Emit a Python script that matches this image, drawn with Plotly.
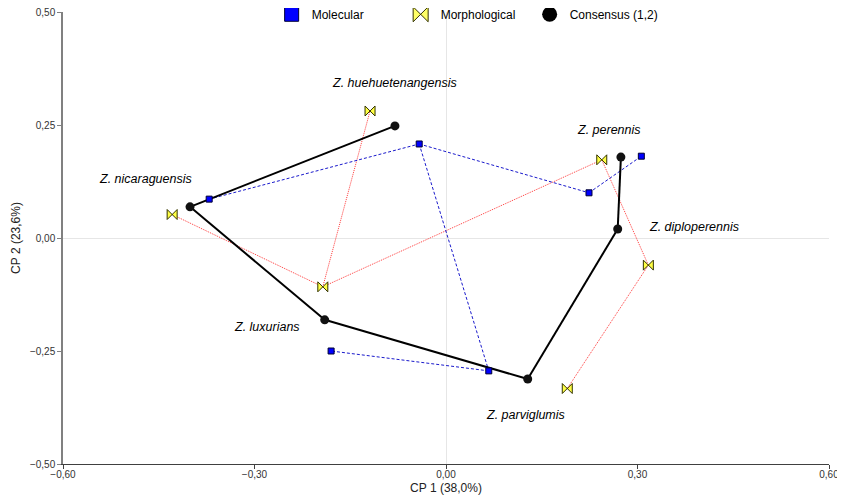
import plotly.graph_objects as go

species = ["Z. huehuetenangensis", "Z. nicaraguensis", "Z. luxurians",
           "Z. parviglumis", "Z. diploperennis", "Z. perennis"]

# Consensus (1,2) coordinates
cons_x = [-0.080, -0.401, -0.190, 0.128, 0.269, 0.274]
cons_y = [0.248, 0.069, -0.181, -0.312, 0.020, 0.179]
cons_edges = [(0, 1), (1, 2), (2, 3), (3, 4), (4, 5)]

# Molecular coordinates
mol_x = [-0.042, -0.371, -0.180, 0.067, 0.306, 0.224]
mol_y = [0.208, 0.086, -0.250, -0.294, 0.181, 0.100]
mol_edges = [(1, 0), (0, 5), (5, 4), (0, 3), (3, 2)]

# Morphological coordinates
mor_x = [-0.119, -0.429, -0.193, 0.190, 0.317, 0.244]
mor_y = [0.281, 0.052, -0.108, -0.333, -0.060, 0.173]
mor_edges = [(1, 2), (2, 0), (2, 5), (5, 4), (4, 3)]

x_ticks = [-0.60, -0.30, 0.00, 0.30, 0.60]
y_ticks = [-0.50, -0.25, 0.00, 0.25, 0.50]


def edge_path(xs, ys, edges):
    px, py = [], []
    for a, b in edges:
        px += [xs[a], xs[b], None]
        py += [ys[a], ys[b], None]
    return px, py


fig = go.Figure()

ex, ey = edge_path(mor_x, mor_y, mor_edges)
fig.add_trace(go.Scatter(x=ex, y=ey, mode="lines", showlegend=False,
                         line=dict(color="#ff3b3b", width=1, dash="1px,1px"), hoverinfo="skip"))
ex, ey = edge_path(mol_x, mol_y, mol_edges)
fig.add_trace(go.Scatter(x=ex, y=ey, mode="lines", showlegend=False,
                         line=dict(color="#1a1acc", width=1, dash="3px,2px"), hoverinfo="skip"))
ex, ey = edge_path(cons_x, cons_y, cons_edges)
fig.add_trace(go.Scatter(x=ex, y=ey, mode="lines", showlegend=False,
                         line=dict(color="#000000", width=2), hoverinfo="skip"))

fig.add_trace(go.Scatter(x=mol_x, y=mol_y, mode="markers", showlegend=False,
                         marker=dict(symbol="square", size=6, color="#0000ff",
                                     line=dict(color="#000033", width=1))))
fig.add_trace(go.Scatter(x=mor_x, y=mor_y, mode="markers", showlegend=False,
                         marker=dict(symbol="bowtie", size=10, color="#ffff44",
                                     line=dict(color="#333300", width=1))))
fig.add_trace(go.Scatter(x=cons_x, y=cons_y, mode="markers", showlegend=False,
                         marker=dict(symbol="circle", size=9, color="#111111",
                                     line=dict(color="#000000", width=0))))

# legend entries
fig.add_trace(go.Scatter(x=[None], y=[None], mode="markers", name="Molecular",
                         marker=dict(symbol="square", size=14, color="#0000ff",
                                     line=dict(color="#000033", width=1))))
fig.add_trace(go.Scatter(x=[None], y=[None], mode="markers", name="Morphological",
                         marker=dict(symbol="bowtie", size=15, color="#ffff66",
                                     line=dict(color="#333300", width=1))))
fig.add_trace(go.Scatter(x=[None], y=[None], mode="markers", name="Consensus (1,2)",
                         marker=dict(symbol="circle", size=15, color="#000000")))

label_x = [-0.080, -0.470, -0.281, 0.1245, 0.3885, 0.2554]
label_y = [0.343, 0.1305, -0.197, -0.3916, 0.0243, 0.239]
for name, lx, ly in zip(species, label_x, label_y):
    fig.add_annotation(x=lx, y=ly, text="<i>%s</i>" % name, showarrow=False,
                       font=dict(family="Liberation Sans, Arial", size=12.5, color="#000000"),
                       xanchor="center", yanchor="middle")

# page body adds an 8px offset; size the figure so the plot area lands in place
fig.update_layout(
    width=837, height=494,
    separators=",.",
    paper_bgcolor="white", plot_bgcolor="white",
    margin=dict(l=55, r=16, t=4, b=38, autoexpand=False),
    font=dict(family="Liberation Sans, Arial", size=11, color="#222222"),
    legend=dict(orientation="h", x=0.525, xanchor="center", y=1.027, yanchor="top",
                font=dict(size=12, color="#000000"), bgcolor="rgba(0,0,0,0)",
                itemwidth=30, tracegroupgap=0, entrywidth=84),
    xaxis=dict(range=[-0.6, 0.6], tickvals=x_ticks, tickformat=".2f",
               title=dict(text="CP 1 (38,0%)", font=dict(size=12, color="#222222"), standoff=4),
               showgrid=False, zeroline=True, zerolinecolor="#e6e6e6", zerolinewidth=1,
               showline=True, linecolor="#404040", linewidth=1,
               ticks="outside", ticklen=4, tickcolor="#404040", ticklabelstandoff=-3,
               ticklabeloverflow="allow",
               tickfont=dict(size=10, color="#333333")),
    yaxis=dict(range=[-0.5, 0.5], tickvals=y_ticks, tickformat=".2f",
               title=dict(text="CP 2 (23,6%)", font=dict(size=12, color="#222222"), standoff=7),
               showgrid=False, zeroline=True, zerolinecolor="#e6e6e6", zerolinewidth=1,
               showline=True, linecolor="#808080", linewidth=1.5,
               ticks="outside", ticklen=4, tickcolor="#808080",
               ticklabeloverflow="allow",
               tickfont=dict(size=10, color="#333333")),
)

fig.write_html("out.html")
